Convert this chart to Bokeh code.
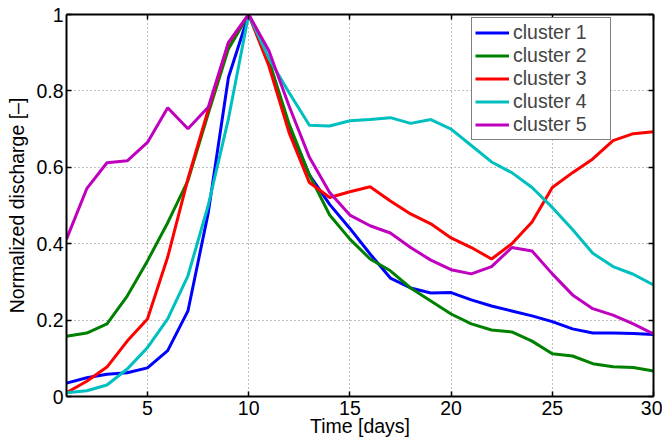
from bokeh.plotting import figure
from bokeh.models import (Range1d, LinearAxis, FixedTicker, CustomJSTickFormatter,
                          Legend, LegendItem)
from bokeh.embed import file_html
from bokeh.resources import INLINE

days = list(range(1, 31))

cluster1 = [0.035, 0.049, 0.058, 0.062, 0.075, 0.120, 0.224, 0.480, 0.835, 1.000,
            0.875, 0.705, 0.580, 0.503, 0.440, 0.373, 0.310, 0.284, 0.271, 0.272,
            0.253, 0.237, 0.224, 0.211, 0.196, 0.177, 0.166, 0.166, 0.165, 0.162]
cluster2 = [0.158, 0.166, 0.190, 0.263, 0.355, 0.455, 0.565, 0.740, 0.910, 1.000,
            0.880, 0.713, 0.580, 0.475, 0.412, 0.360, 0.329, 0.284, 0.250, 0.216,
            0.190, 0.174, 0.169, 0.145, 0.112, 0.106, 0.086, 0.078, 0.076, 0.067]
cluster3 = [0.010, 0.040, 0.077, 0.145, 0.203, 0.365, 0.570, 0.750, 0.925, 1.000,
            0.865, 0.690, 0.560, 0.521, 0.536, 0.549, 0.512, 0.478, 0.452, 0.415,
            0.390, 0.360, 0.400, 0.457, 0.547, 0.586, 0.622, 0.670, 0.688, 0.693]
cluster4 = [0.010, 0.015, 0.030, 0.072, 0.128, 0.203, 0.316, 0.500, 0.727, 1.000,
            0.885, 0.795, 0.710, 0.708, 0.722, 0.725, 0.730, 0.715, 0.725, 0.700,
            0.657, 0.614, 0.586, 0.547, 0.495, 0.437, 0.375, 0.340, 0.320, 0.292]
cluster5 = [0.412, 0.544, 0.612, 0.617, 0.665, 0.756, 0.701, 0.757, 0.927, 1.000,
            0.905, 0.760, 0.626, 0.534, 0.475, 0.447, 0.428, 0.390, 0.357, 0.332,
            0.321, 0.340, 0.390, 0.381, 0.321, 0.266, 0.230, 0.213, 0.190, 0.164]

series_names = ["cluster 1", "cluster 2", "cluster 3", "cluster 4", "cluster 5"]
series_values = [cluster1, cluster2, cluster3, cluster4, cluster5]
colors = ["#0000ff", "#008000", "#ff0000", "#00bfbf", "#bf00bf"]

x_ticks = [5, 10, 15, 20, 25, 30]
y_ticks = [0, 0.2, 0.4, 0.6, 0.8, 1.0]

FONT = "Liberation Sans"
FS = "19.5px"

p = figure(width=662, height=440, output_backend="svg", toolbar_location=None,
           x_range=Range1d(1, 30), y_range=Range1d(0, 1),
           min_border_left=66, min_border_right=9, min_border_top=14,
           min_border_bottom=44, x_axis_label="Time [days]",
           y_axis_label="Normalized discharge [\u2013]")
p.outline_line_color = None
p.background_fill_color = "white"
p.border_fill_color = "white"

yfmt = CustomJSTickFormatter(code="return tick.toFixed(1).replace(/\\.0$/, '');")

p.xaxis.ticker = FixedTicker(ticks=x_ticks)
p.yaxis.ticker = FixedTicker(ticks=y_ticks)
p.yaxis.formatter = yfmt

for ax in [p.xaxis[0], p.yaxis[0]]:
    ax.axis_line_width = 2
    ax.axis_line_color = "black"
    ax.major_tick_in = 5
    ax.major_tick_out = 0
    ax.major_tick_line_width = 1.5
    ax.minor_tick_line_color = None
    ax.major_label_text_font = FONT
    ax.major_label_text_font_size = FS
    ax.major_label_text_color = "black"
    ax.axis_label_text_font = FONT
    ax.axis_label_text_font_size = FS
    ax.axis_label_text_font_style = "normal"
    ax.axis_label_text_color = "black"

p.xaxis.major_label_standoff = 4
p.xaxis.axis_label_standoff = -3
p.yaxis.major_label_standoff = 3
p.yaxis.axis_label_standoff = 5

# box-style axes on the right and top: ticks only, no labels
for loc, tick in [("right", y_ticks), ("above", x_ticks)]:
    ax = LinearAxis(ticker=FixedTicker(ticks=tick),
                    formatter=CustomJSTickFormatter(code="return '';"))
    ax.axis_line_width = 2
    ax.axis_line_color = "black"
    ax.major_tick_in = 5
    ax.major_tick_out = 0
    ax.major_tick_line_width = 1.5
    ax.minor_tick_line_color = None
    ax.major_label_standoff = 0
    ax.major_label_text_font_size = "1px"
    p.add_layout(ax, loc)

p.xgrid.ticker = FixedTicker(ticks=x_ticks)
p.ygrid.ticker = FixedTicker(ticks=y_ticks)
for g in [p.xgrid[0], p.ygrid[0]]:
    g.grid_line_color = "#808080"
    g.grid_line_dash = "1 3"
    g.grid_line_width = 1

items = []
for name, vals, col in zip(series_names, series_values, colors):
    r = p.line(days, vals, line_color=col, line_width=3)
    items.append(LegendItem(label=name, renderers=[r]))

legend = Legend(items=items, location=(405, 256))
legend.label_text_font = FONT
legend.label_text_font_size = FS
legend.label_height = 23
legend.glyph_height = 23
legend.glyph_width = 34
legend.label_width = 94
legend.label_standoff = 4
legend.spacing = 0
legend.padding = 3
legend.margin = 0
legend.border_line_color = "black"
legend.border_line_width = 1
legend.background_fill_color = "white"
legend.background_fill_alpha = 1.0
p.add_layout(legend)

open("out.html", "w").write(file_html(p, INLINE))
